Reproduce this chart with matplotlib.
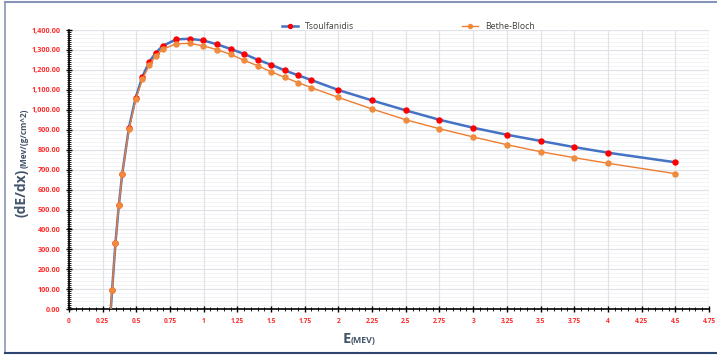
import matplotlib
matplotlib.use('Agg')
import matplotlib.pyplot as plt
from matplotlib.ticker import MultipleLocator, FuncFormatter
from matplotlib.lines import Line2D

plt.rcParams['font.family'] = ['Open Sans', 'DejaVu Sans']

# energy (MeV) and stopping power values
energy = [0.30, 0.32, 0.345, 0.37, 0.395, 0.445, 0.495, 0.545, 0.595, 0.645, 0.695,
          0.795, 0.895, 0.995, 1.1, 1.2, 1.3, 1.4, 1.5, 1.6, 1.7, 1.8,
          2.0, 2.25, 2.5, 2.75, 3.0, 3.25, 3.5, 3.75, 4.0, 4.5]
tsoulfanidis = [-100, 95, 333, 522, 678, 910, 1061, 1166, 1240, 1286, 1320,
                1353, 1356, 1348, 1328, 1305, 1280, 1251, 1226, 1198, 1173, 1149,
                1099, 1047, 997, 950, 910, 875, 844, 813, 785, 737]
bethe_bloch = [-100, 95, 333, 524, 678, 902, 1052, 1153, 1223, 1271, 1303,
               1331, 1333, 1321, 1301, 1278, 1248, 1221, 1191, 1163, 1136, 1111,
               1062, 1004, 950, 905, 864, 825, 790, 760, 732, 680]

RED = '#ff2b2b'
SLATE = '#44546a'

fig = plt.figure(figsize=(7.17, 3.56), dpi=100)
ax = fig.add_axes([0.0962, 0.1312, 0.8926, 0.7845])

ax.plot(energy, tsoulfanidis, '-o', color='#4472c4', lw=1.8, ms=3.6,
        mfc='#ff0000', mec='#ff0000', label='Tsoulfanidis', zorder=3)
ax.plot(energy, bethe_bloch, '-o', color='#ed7d31', lw=1.0, ms=3.6,
        mfc='#f08a3c', mec='#f08a3c', label='Bethe-Bloch', zorder=4)

ax.set_xlim(0, 4.75)
ax.set_ylim(0, 1400)

ax.xaxis.set_major_locator(MultipleLocator(0.25))
ax.xaxis.set_minor_locator(MultipleLocator(0.05))
ax.yaxis.set_major_locator(MultipleLocator(100))
ax.yaxis.set_minor_locator(MultipleLocator(10))
ax.xaxis.set_major_formatter(FuncFormatter(lambda v, p: f'{v:g}'))
ax.yaxis.set_major_formatter(FuncFormatter(lambda v, p: f'{v:,.2f}'))

# gridlines: major and faint minor every 20
ax.grid(True, which='major', color='#e0e4ea', lw=0.9, zorder=0)
for yv in range(20, 1400, 20):
    if yv % 100:
        ax.axhline(yv, color='#f0f2f5', lw=0.6, zorder=0)
ax.set_axisbelow(True)

for s in ['top', 'right']:
    ax.spines[s].set_visible(False)
for s in ['left', 'bottom']:
    ax.spines[s].set_color('black')
    ax.spines[s].set_linewidth(1.2)

ax.tick_params(which='major', direction='inout', length=5, width=1.0,
               colors='black', labelcolor=RED, labelsize=5.2)
ax.tick_params(which='minor', direction='inout', length=2.5, width=0.6, colors='black')
ax.tick_params(axis='x', which='major', pad=4, labelsize=4.8)
for lab in ax.get_xticklabels() + ax.get_yticklabels():
    lab.set_fontweight('bold')

# axis titles
fig.text(0.030, 1 - 193 / 356, '(dE/dx)', rotation=90, ha='center', va='center',
         fontsize=10, fontweight='bold', color=SLATE)
fig.text(0.034, 1 - 138 / 356, '(Mev/(g/cm^2)', rotation=90, ha='center', va='center',
         fontsize=6, fontweight='bold', color=SLATE)
fig.text(0.489, 1 - 343 / 356, 'E', ha='right', va='baseline',
         fontsize=10.5, fontweight='bold', color=SLATE)
fig.text(0.489, 1 - 343 / 356, '(MEV)', ha='left', va='baseline',
         fontsize=6.3, fontweight='bold', color=SLATE)

fig.legend(loc='center', bbox_to_anchor=(0.5697, 0.926), ncol=2, frameon=False,
           fontsize=6.3, columnspacing=12.3, handlelength=1.8, markerscale=0.8,
           labelcolor='#404040')

# outer chart frame
fig.add_artist(Line2D([0.007, 1.0], [0.995, 0.995], color='#8594b8', lw=1.5))
fig.add_artist(Line2D([0.007, 0.007], [0.008, 0.995], color='#8a96b0', lw=1.2))
fig.add_artist(Line2D([0.007, 1.0], [0.008, 0.008], color='#2e4470', lw=1.5))

fig.savefig('out.png', dpi=100)
